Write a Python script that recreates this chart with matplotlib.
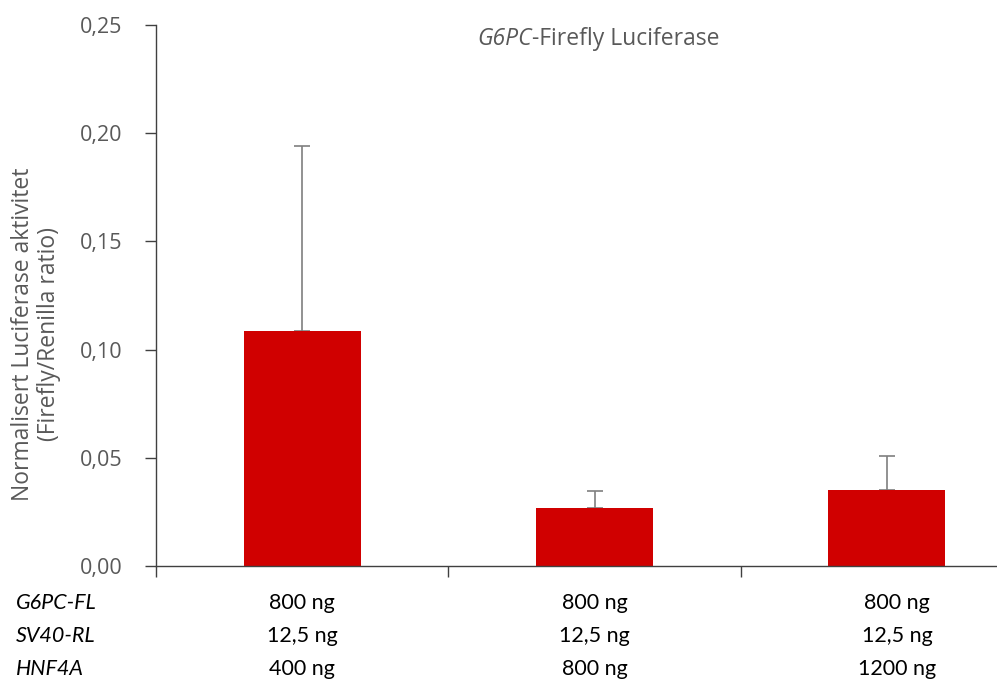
import matplotlib
matplotlib.use("Agg")
import matplotlib.pyplot as plt
import numpy as np

categories = ["400 ng", "800 ng", "1200 ng"]
values = [0.1086, 0.0268, 0.0351]
errors_upper = [0.0855, 0.0079, 0.0157]
row_labels = ["G6PC-FL", "SV40-RL", "HNF4A"]
row_values = [["800 ng", "800 ng", "800 ng"],
              ["12,5 ng", "12,5 ng", "12,5 ng"],
              ["400 ng", "800 ng", "1200 ng"]]
yticks = [0.0, 0.05, 0.10, 0.15, 0.20, 0.25]
ytick_labels = ["0,00", "0,05", "0,10", "0,15", "0,20", "0,25"]

W, H = 997, 681
fig = plt.figure(figsize=(W / 100, H / 100), dpi=100)
left, right = 156, 1033
bottom, top = 566, 25
ax = fig.add_axes([left / W, 1 - bottom / H, (right - left) / W, (bottom - top) / H])

x = np.arange(len(values))
ax.bar(x, values, width=0.4, color="#d00000", zorder=2)
ax.errorbar(x, values, yerr=[np.zeros(len(values)), errors_upper], fmt="none",
            ecolor="#7f7f7f", elinewidth=1.2, capsize=6, capthick=1.2, zorder=1)

ax.set_xlim(-0.5, 2.5)
ax.set_ylim(0, 0.25)
ax.set_yticks(yticks)
ax.set_yticklabels(ytick_labels, fontsize=15.5, color="#595959", family="Open Sans")
ax.set_xticks([-0.5, 0.5, 1.5, 2.5])
ax.set_xticklabels([])
ax.tick_params(axis="y", direction="out", length=8, width=1, color="#404040", pad=16)
ax.tick_params(axis="x", direction="out", length=8, width=1, color="#404040")
for s in ["top", "right"]:
    ax.spines[s].set_visible(False)
for s in ["left", "bottom"]:
    ax.spines[s].set_color("#404040")
    ax.spines[s].set_linewidth(1)

fig.text(36 / W, 1 - 334 / H, "Normalisert Luciferase aktivitet\n(Firefly/Renilla ratio)",
         rotation=90, ha="center", va="center", fontsize=16.5, color="#595959",
         family="Open Sans", linespacing=1.15)

t1 = fig.text(477 / W, 1 - 39 / H, "G6PC", fontsize=16.5, color="#595959",
              family="Open Sans", style="italic", ha="left", va="center")
ax.annotate("-Firefly Luciferase", xy=(1, 0.5), xycoords=t1, ha="left", va="center",
            fontsize=16.5, color="#595959", family="Open Sans", annotation_clip=False)

row_y = [603, 636, 669]
for i, lab in enumerate(row_labels):
    fig.text(16 / W, 1 - row_y[i] / H, lab, fontsize=15.5, style="italic",
             family="Lato", ha="left", va="center", color="black")
    for j in range(len(categories)):
        xp = ax.transData.transform((x[j] + (0.035 if j == 2 else 0), 0))[0]
        fig.text(xp / W, 1 - row_y[i] / H, row_values[i][j], fontsize=15.5,
                 family="Lato", ha="center", va="center", color="black")

fig.savefig("out.png", dpi=100)
